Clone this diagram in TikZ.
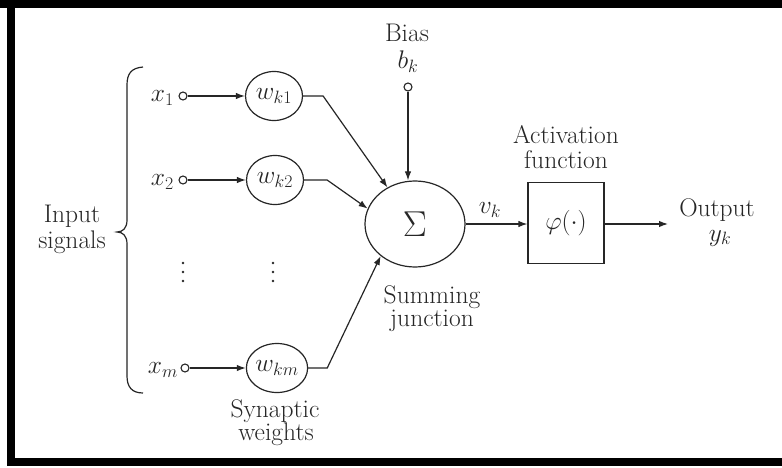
\RequirePackage{fix-cm}
\documentclass[tikz,border=0pt]{standalone}
\usetikzlibrary{arrows.meta,shapes.geometric}
\begin{document}
\begin{tikzpicture}[x=1pt,y=-1pt,
  every node/.style={text=black!85, font=\fontsize{25.5}{30}\selectfont},
  ln/.style={draw=black!85, line width=1.2pt},
  arr/.style={ln, -{Latex[length=9pt,width=6.5pt]}},
  wgt/.style={ellipse, draw=black!85, line width=1.2pt, minimum width=57pt, minimum height=49pt, inner sep=0pt},
  term/.style={circle, draw=black!85, line width=1.1pt, fill=white, minimum size=8pt, inner sep=0pt},
  lbl/.style={inner sep=0pt}]
\useasboundingbox (0,0) rectangle (782,468);
\fill[white] (0,0) rectangle (782,468);
% frame
\fill[black] (0,0) rectangle (782,8);
\fill[black] (7,0) rectangle (15,466);
\fill[black] (7,458) rectangle (782,466);

% input terminals and labels
\node[term] (t1) at (183,96) {};
\node[term] (t2) at (183,180) {};
\node[term] (tm) at (185,368) {};
\node[lbl, anchor=east] (x1) at (174,98) {$x_1$};
\node[lbl, anchor=east] (x2) at (174,182) {$x_2$};
\node[lbl, anchor=east] (xm) at (178,370) {$x_m$};

% weights
\node[wgt] (w1) at (274,96) {$w_{k1}$};
\node[wgt] (w2) at (275,180) {$w_{k2}$};
\node[wgt] (wm) at (277,368) {$w_{km}$};

% dots
\foreach \xx in {183,273} {
  \fill[black!85] (\xx,263) circle (1.4);
  \fill[black!85] (\xx,272) circle (1.4);
  \fill[black!85] (\xx,281) circle (1.4);
}

% summing junction
\node[ellipse, draw=black!85, line width=1.2pt, minimum width=100pt, minimum height=86pt, inner sep=0pt] (sum) at (415,224) {\fontsize{36}{40}\selectfont$\Sigma$};

% bias
\node (bias) at (407,33) {Bias};
\node (bk) at (408,62) {$b_k$};
\node[term] (tb) at (408,87) {};

% activation
\node[draw=black!85, line width=1.2pt, minimum width=76pt, minimum height=81pt, inner sep=0pt] (act) at (566,223) {$\varphi(\cdot)$};
\node (actl1) at (566,135) {Activation};
\node (actl2) at (566,160) {function};
\coordinate (out) at (668,224);

% labels
\node (vk) at (490,210) {$v_k$};
\node (outl) at (717,210) {Output};
\node (yk) at (720,238) {$y_k$};
\node (sj1) at (432,297) {Summing};
\node (sj2) at (432,321) {junction};
\node (sw1) at (275,411) {Synaptic};
\node (sw2) at (276,434) {weights};
\node (in1) at (72,216) {Input};
\node (in2) at (72,242) {signals};

% brace
\draw[ln] (143,67) .. controls (131,68) and (127,74) .. (127,85) -- (127,220)
  .. controls (127,228) and (123,232) .. (117,232)
  .. controls (123,232) and (127,236) .. (127,244) -- (127,376)
  .. controls (127,387) and (132,393) .. (143,393);

% connectors
\draw[arr] (t1) -- (w1);
\draw[arr] (t2) -- (w2);
\draw[arr] (tm) -- (wm);
\draw[arr] (w1.east) -- ++(20,0) -- (sum.127);
\draw[arr] (w2.east) -- ++(23,0) -- (sum.162);
\draw[arr] (wm.east) -- ++(19,0) -- (sum.223);
\draw[arr] (tb) -- (sum.north -| tb);
\draw[arr] (sum.east) -- (act.west |- sum.east);
\draw[arr] (act.east |- sum.east) -- (out);
\end{tikzpicture}
\end{document}
